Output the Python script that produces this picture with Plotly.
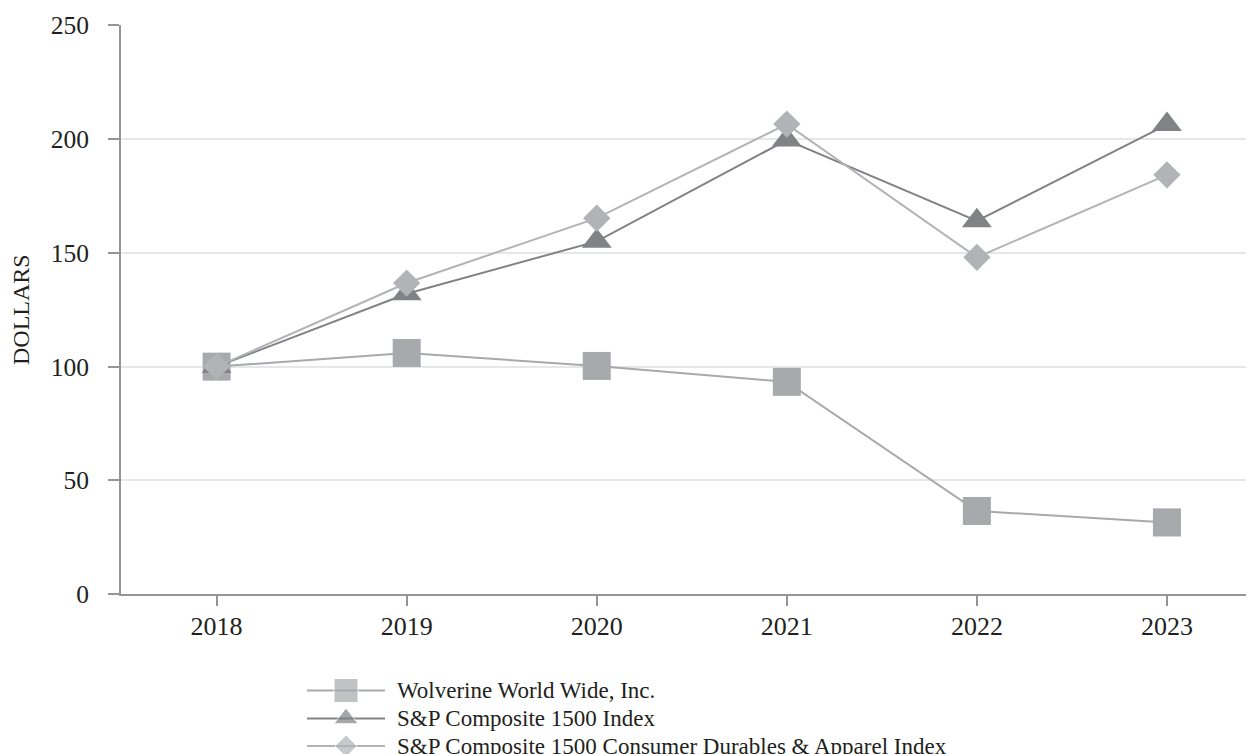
import plotly.graph_objects as go

years = ["2018", "2019", "2020", "2021", "2022", "2023"]
wolverine = [100, 106, 100.3, 93.3, 36.6, 31.6]
sp1500 = [100, 132, 155, 199.5, 164, 206.3]
consumer = [100, 136.7, 165.2, 206.5, 148, 184.2]

names = ["Wolverine World Wide, Inc.", "S&P Composite 1500 Index",
         "S&P Composite 1500 Consumer Durables & Apparel Index"]
y_ticks = [0, 50, 100, 150, 200, 250]

colors = ["#a7a9ac", "#808285", "#b1b3b6"]
symbols = ["square", "triangle-up", "diamond"]
sizes = [28, 26, 21]
legend_sizes = [24, 21, 17]

FONT = "Liberation Serif, Times New Roman, serif"
OFF = 8                       # page body margin
W, H = 1254, 754              # figure size
PLOT_LEFT, PLOT_TOP, PLOT_BOTTOM = 121, 24.7, 594.3   # target page pixels
FIG_RIGHT = OFF + W
FIG_BOTTOM = OFF + H
paper_h = FIG_BOTTOM - PLOT_TOP
ydom0 = (FIG_BOTTOM - PLOT_BOTTOM) / paper_h

fig = go.Figure()
series = [wolverine, sp1500, consumer]
for vals, nm, c, s, sz in zip(series, names, colors, symbols, sizes):
    fig.add_trace(go.Scatter(x=years, y=vals, name=nm, mode="lines+markers",
                             line=dict(color=c, width=2),
                             marker=dict(symbol=s, size=sz, color=c),
                             showlegend=False))

# manual legend drawn in a pixel-based helper axis below the plot
leg_rows = [690.5, 718.5, 746]
leg_x0, leg_x1, leg_text_x = 307, 385, 395
for i, (nm, c, s, sz) in enumerate(zip(names, colors, symbols, legend_sizes)):
    fig.add_trace(go.Scatter(x=[leg_x0, (leg_x0 + leg_x1) / 2, leg_x1], y=[leg_rows[i]] * 3,
                             mode="lines+markers", xaxis="x2", yaxis="y2",
                             line=dict(color=c, width=2),
                             marker=dict(symbol=s, size=[0, sz, 0], color=c),
                             showlegend=False, hoverinfo="skip", cliponaxis=False))
    fig.add_annotation(x=leg_text_x, y=leg_rows[i], xref="x2", yref="y2", text=nm,
                       showarrow=False, xanchor="left", yanchor="middle",
                       font=dict(size=23, family=FONT, color="#231f20"))

fig.update_layout(
    width=W, height=H,
    margin=dict(l=PLOT_LEFT - OFF, r=0, t=PLOT_TOP - OFF, b=0, autoexpand=False),
    paper_bgcolor="white", plot_bgcolor="white",
    font=dict(family=FONT, size=24, color="#231f20"),
    showlegend=False,
    xaxis=dict(type="category", range=[-0.503, 5.5], showline=True, linecolor="#939598",
               linewidth=2, ticks="outside", ticklen=10, tickcolor="#939598", tickwidth=1.5,
               showgrid=False, tickfont=dict(size=26), zeroline=False, anchor="y",
               ticklabelstandoff=-3, domain=[0, 1]),
    yaxis=dict(range=[0, 250], tickvals=y_ticks, showline=True, linecolor="#939598",
               linewidth=2, ticks="outside", ticklen=11, tickcolor="#939598", tickwidth=1.5,
               showgrid=True, gridcolor="#e6e7e8", gridwidth=1.5, zeroline=False,
               tickfont=dict(size=25.5), domain=[ydom0, 1], anchor="x",
               ticklabelstandoff=14,
               title=dict(text="DOLLARS", font=dict(size=24), standoff=15)),
    xaxis2=dict(domain=[0, 1], range=[PLOT_LEFT, FIG_RIGHT], visible=False, anchor="y2",
                fixedrange=True),
    yaxis2=dict(domain=[0, ydom0], range=[FIG_BOTTOM, PLOT_BOTTOM], visible=False,
                anchor="x2", fixedrange=True),
)

fig.write_html("out.html")
